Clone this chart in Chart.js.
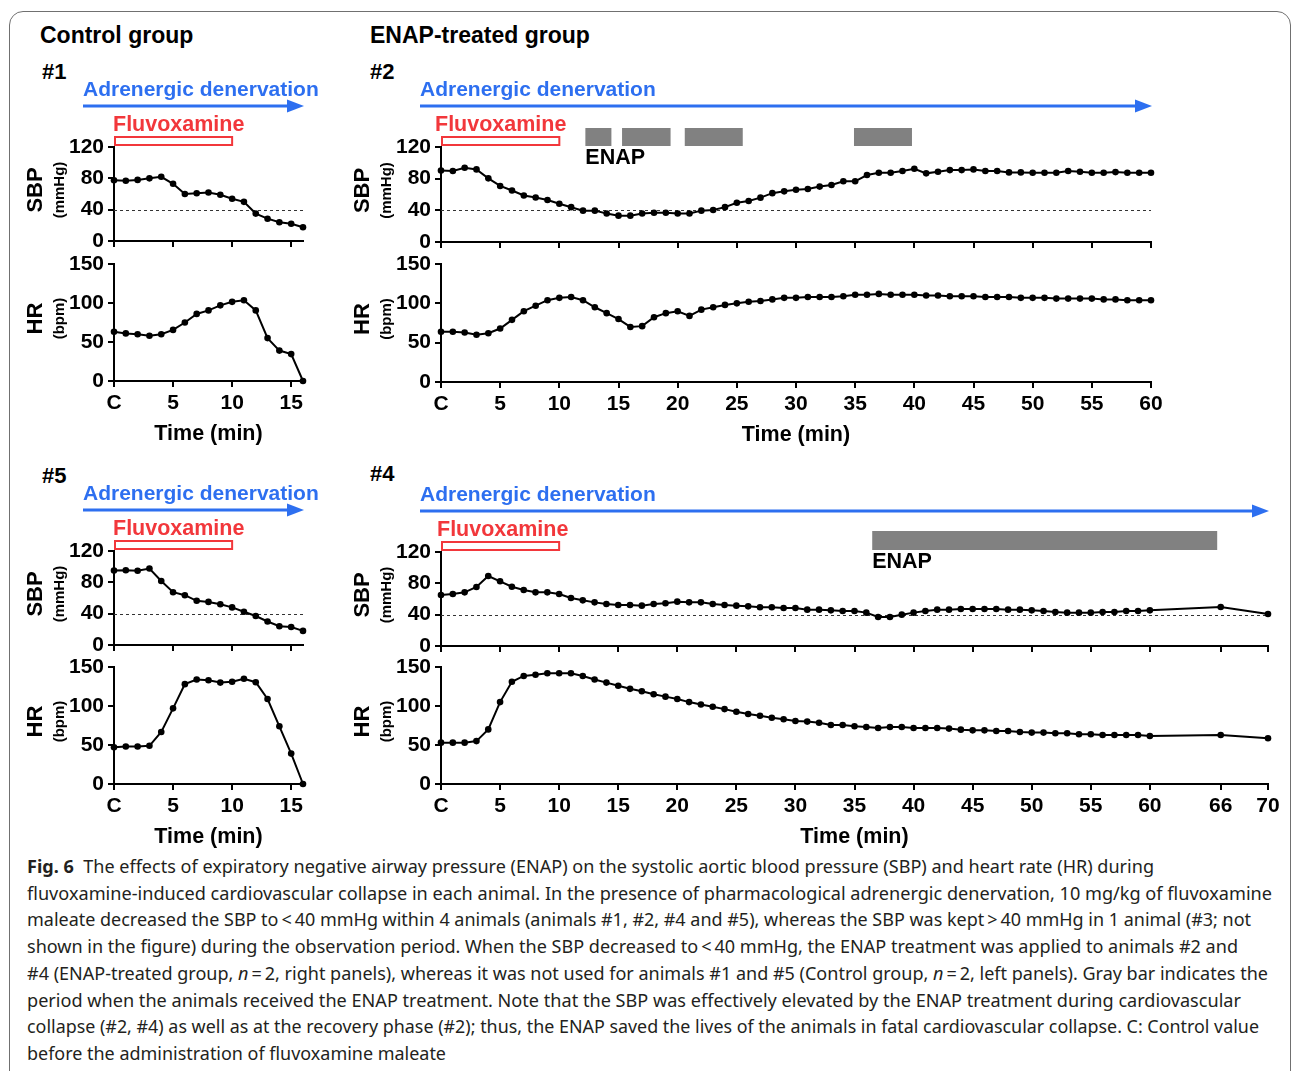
<!DOCTYPE html>
<html>
<head>
<meta charset="utf-8">
<script src="https://cdn.jsdelivr.net/npm/chart.js@4.4.1/dist/chart.umd.min.js"></script>
<style>
body { margin:0; background:#fff; width:1293px; height:1071px; overflow:hidden; position:relative; font-family:"Liberation Sans", Arial, sans-serif; }
.frame { position:absolute; left:9px; top:11px; width:1280px; height:1100px; border:1.5px solid #707070; border-radius:14px; }
.hd { position:absolute; font-weight:bold; font-size:23px; line-height:23px; color:#000; }
.num { font-size:22px; line-height:22px; }
canvas { position:absolute; }
#caption { position:absolute; left:27px; top:853px; font-family:"Noto Sans", sans-serif; font-size:18.5px; line-height:26.7px; color:#231f20; }
#caption div { white-space:nowrap; transform-origin:0 0; width:max-content; }
</style>
</head>
<body>
<div class="frame"></div>
<div class="hd" style="left:40px;top:24px">Control group</div>
<div class="hd" style="left:370px;top:24px">ENAP-treated group</div>
<div class="hd num" style="left:42px;top:61px">#1</div>
<div class="hd num" style="left:370px;top:61px">#2</div>
<div class="hd num" style="left:42px;top:465px">#5</div>
<div class="hd num" style="left:370px;top:463px">#4</div>

<div id="caption">
<div><b>Fig. 6</b>&nbsp; The effects of expiratory negative airway pressure (ENAP) on the systolic aortic blood pressure (SBP) and heart rate (HR) during</div>
<div>fluvoxamine-induced cardiovascular collapse in each animal. In the presence of pharmacological adrenergic denervation, 10 mg/kg of fluvoxamine</div>
<div>maleate decreased the SBP to&thinsp;&lt;&thinsp;40 mmHg within 4 animals (animals #1, #2, #4 and #5), whereas the SBP was kept&thinsp;&gt;&thinsp;40 mmHg in 1 animal (#3; not</div>
<div>shown in the figure) during the observation period. When the SBP decreased to&thinsp;&lt;&thinsp;40 mmHg, the ENAP treatment was applied to animals #2 and</div>
<div>#4 (ENAP-treated group, <i>n</i>&thinsp;=&thinsp;2, right panels), whereas it was not used for animals #1 and #5 (Control group, <i>n</i>&thinsp;=&thinsp;2, left panels). Gray bar indicates the</div>
<div>period when the animals received the ENAP treatment. Note that the SBP was effectively elevated by the ENAP treatment during cardiovascular</div>
<div>collapse (#2, #4) as well as at the recovery phase (#2); thus, the ENAP saved the lives of the animals in fatal cardiovascular collapse. C: Control value</div>
<div>before the administration of fluvoxamine maleate</div>
</div>

<script>
// datos (minutos, mmHg, bpm)
const time16 = [0,1,2,3,4,5,6,7,8,9,10,11,12,13,14,15,16];
const sbp1 = [77.6,77,78,80,82,73,60,61,62,59,54,50,35,28.5,24,22,17.5];
const hr1 = [63,61,60,58,60,65.5,75,86,90.5,97,101.5,103.5,90.5,55,39,34.5,0];

const sbp5 = [95,95.5,94.7,97.7,81.7,67.4,63.6,56.4,55,52,48,42.5,37,30,24,23,18];
const hr5 = [47,48,48,49,66.7,97,128,134,133,130,131,135,130.5,109,74,39,0];

const time60 = [0,1,2,3,4,5,6,7,8,9,10,11,12,13,14,15,16,17,18,19,20,21,22,23,24,25,26,27,28,29,30,
  31,32,33,34,35,36,37,38,39,40,41,42,43,44,45,46,47,48,49,50,51,52,53,54,55,56,57,58,59,60];
const sbp2 = [90.4,89.6,93.7,91.7,80.4,70.8,65,58.7,56.2,53,48.3,44,39.6,39.6,36,33.3,33.3,36,37,37,36,
  36,39.6,40.4,44,49.6,51.7,56,61.7,64,66,67,70,72,76.7,76.7,84.6,87.5,87.5,89.6,92.5,
  86.7,88.7,90.8,90.8,91.7,89.6,89.6,87.9,87.9,87.5,87.5,87.5,89.6,88.7,87.5,87.5,88.3,87.5,87.5,87.5];
const hr2 = [63.8,63.8,63,60,62,68,79,90,97,104,107,108,104,95,87.5,80,70,71,82.4,87.5,90,
  84,92,95,98,100,102,103,105,107,107,108,108,108,109,111,111,112,111,111,111,
  110,110,109,109,109,108,108,108,107,107,107,106,106,106,106,105,105,104,104,104];

const time70 = [0,1,2,3,4,5,6,7,8,9,10,11,12,13,14,15,16,17,18,19,20,21,22,23,24,25,26,27,28,29,30,
  31,32,33,34,35,36,37,38,39,40,41,42,43,44,45,46,47,48,49,50,51,52,53,54,55,56,57,58,59,60,66,70];
const sbp4 = [65.1,66.4,68.5,75.3,89.4,82.6,75.7,71.5,68.5,68.5,66.4,61.3,58.3,55.7,53.6,52.3,52.3,51.5,53.6,54.5,56.6,
  55.7,55.7,53.6,52.3,51.5,50.6,49.4,49.4,48.5,48.5,46.4,46.4,45.5,44.7,44.7,42.6,37,37,40,42.6,
  44.7,46.4,46.4,47.2,47.2,47.2,47.2,46.4,46.4,45.5,44.7,43.4,42.6,42.6,42.6,43.4,43.4,44.7,44.7,45.5,49.8,40.9];
const hr4 = [53,53,53,55,70,105,131,138.5,140,142,142,142,138.5,134,130,126,122,119,115,112,109,
  105,102,99,96,92.6,89.7,87.5,85,83,80.7,80,78.6,75.6,75.6,74,73,71.8,73,73,71.8,
  71.8,71.8,71,69.7,68.8,68.8,68,68,66.7,65.9,65.9,65,65,63.7,63.7,62.9,62.9,62.9,62.9,61.6,62.9,58.6];

const xTicks16 = [0,5,10,15];
const xTicks60 = [0,5,10,15,20,25,30,35,40,45,50,55,60];
const xTicks70 = [0,5,10,15,20,25,30,35,40,45,50,55,60,66,70];
const sbpTicks = [0,40,80,120];
const hrTicks = [0,50,100,150];

const fluvoxamine = [0,10];
const enap2 = [[12.2,14.4],[15.3,19.4],[20.6,25.5],[34.9,39.8]];
const enap4 = [[36.5,65.7]];
const sbpLimit = 40;

const BLUE = '#2d6ff0';
const RED = '#f2373b';
const FONT = "'Liberation Sans', Arial, sans-serif";

Chart.defaults.font.family = FONT;

function decorPlugin(opt) {
  return {
    id: 'decor',
    beforeDatasetsDraw(chart) {
      if (!opt.sbp) return;
      const {ctx, chartArea: a, scales: {y}} = chart;
      const py = Math.round(y.getPixelForValue(sbpLimit)) + 0.5;
      ctx.save();
      ctx.setLineDash([3, 3]);
      ctx.strokeStyle = '#333';
      ctx.lineWidth = 1;
      ctx.beginPath(); ctx.moveTo(a.left, py); ctx.lineTo(a.right, py); ctx.stroke();
      ctx.restore();
    },
    afterDraw(chart) {
      const {ctx, chartArea: a, scales: {x}} = chart;
      ctx.save();
      // titulos del eje y
      const mid = (a.top + a.bottom) / 2 - 4;
      ctx.fillStyle = '#000';
      ctx.textAlign = 'center';
      ctx.textBaseline = 'middle';
      ctx.save(); ctx.translate(a.left - 78, mid); ctx.rotate(-Math.PI / 2);
      ctx.font = 'bold 22px ' + FONT; ctx.fillText(opt.sbp ? 'SBP' : 'HR', 0, 0); ctx.restore();
      ctx.save(); ctx.translate(a.left - 54, mid); ctx.rotate(-Math.PI / 2);
      ctx.font = 'bold 15px ' + FONT; ctx.fillText(opt.sbp ? '(mmHg)' : '(bpm)', 0, 0); ctx.restore();

      if (opt.sbp) {
        ctx.textAlign = 'left';
        ctx.font = 'bold 21px ' + FONT;
        // flecha de denervacion
        const x0 = a.left + opt.arrowStart;
        const x1 = x.getPixelForValue(x.max) + 1;
        const ya = a.top - 41;
        ctx.fillStyle = BLUE;
        ctx.fillText('Adrenergic denervation', x0, a.top - 57);
        ctx.strokeStyle = BLUE; ctx.lineWidth = 3;
        ctx.beginPath(); ctx.moveTo(x0, ya); ctx.lineTo(x1 - 12, ya); ctx.stroke();
        ctx.beginPath(); ctx.moveTo(x1 - 17, ya - 6.5); ctx.lineTo(x1, ya); ctx.lineTo(x1 - 17, ya + 6.5); ctx.closePath(); ctx.fill();
        // fluvoxamina
        const f0 = x.getPixelForValue(fluvoxamine[0]);
        const f1 = x.getPixelForValue(fluvoxamine[1]);
        ctx.fillStyle = RED;
        ctx.font = 'bold 21.5px ' + FONT;
        ctx.fillText('Fluvoxamine', f0 + opt.fluvoDx, a.top - 22);
        ctx.strokeStyle = RED; ctx.lineWidth = 2;
        ctx.strokeRect(f0 + 1, a.top - 10, f1 - f0 - 1, 8);
        // ENAP
        if (opt.enap) {
          ctx.fillStyle = '#818181';
          opt.enap.forEach(p => {
            const e0 = x.getPixelForValue(p[0]);
            const e1 = x.getPixelForValue(p[1]);
            ctx.fillRect(e0, a.top + opt.enapTop, e1 - e0, opt.enapH);
          });
          ctx.fillStyle = '#000';
          ctx.font = 'bold 21.5px ' + FONT;
          ctx.fillText('ENAP', x.getPixelForValue(opt.enap[0][0]), a.top + opt.enapLabel);
        }
      }
      ctx.restore();
    }
  };
}

function makeChart(box, times, values, opt) {
  const padTop = opt.sbp ? 80 : 20;
  const xH = opt.sbp ? 8 : 70;
  const padBottom = opt.sbp ? 10 : 5;
  const w = box.R - box.L + 110 + 25;
  const h = box.B - box.T + padTop + xH + padBottom;
  const cv = document.createElement('canvas');
  cv.width = w; cv.height = h;
  cv.style.left = (box.L - 110) + 'px';
  cv.style.top = (box.T - padTop) + 'px';
  cv.style.width = w + 'px';
  cv.style.height = h + 'px';
  document.body.appendChild(cv);

  const tickFont = {family: FONT, size: 21, weight: 'bold'};
  const yTicks = opt.sbp ? sbpTicks : hrTicks;

  return new Chart(cv, {
    type: 'line',
    data: {
      datasets: [{
        data: times.map((t, i) => ({x: t, y: values[i]})),
        borderColor: '#000',
        backgroundColor: '#000',
        borderWidth: 2,
        pointRadius: 3.3,
        pointBorderWidth: 0,
        tension: 0,
        clip: false
      }]
    },
    options: {
      responsive: false,
      animation: false,
      devicePixelRatio: 1,
      layout: {padding: {left: 60, right: 25, top: padTop, bottom: padBottom}},
      plugins: {legend: {display: false}, tooltip: {enabled: false}},
      scales: {
        x: {
          type: 'linear',
          min: 0,
          max: opt.xMax,
          afterBuildTicks: s => { s.ticks = opt.xTicks.map(v => ({value: v})); },
          afterFit: s => { s.height = xH; },
          ticks: {
            display: !opt.sbp,
            autoSkip: false,
            maxRotation: 0,
            minRotation: 0,
            padding: 4,
            color: '#000',
            font: tickFont,
            callback: v => v === 0 ? 'C' : String(v)
          },
          grid: {drawOnChartArea: false, color: '#000', lineWidth: 2, tickLength: 6},
          border: {color: '#000', width: 2},
          title: {
            display: !opt.sbp,
            text: 'Time (min)',
            color: '#000',
            font: {family: FONT, size: 21.5, weight: 'bold'},
            padding: {top: 0, bottom: 4}
          }
        },
        y: {
          min: 0,
          max: yTicks[yTicks.length - 1],
          afterBuildTicks: s => { s.ticks = yTicks.map(v => ({value: v})); },
          afterFit: s => { s.width = 50; },
          ticks: {padding: 4, color: '#000', font: tickFont},
          grid: {drawOnChartArea: false, color: '#000', lineWidth: 2, tickLength: 6},
          border: {color: '#000', width: 2}
        }
      }
    },
    plugins: [decorPlugin(opt)]
  });
}

// #1
makeChart({L: 114, R: 303, T: 147, B: 241}, time16, sbp1, {sbp: true, xMax: 16, xTicks: xTicks16, arrowStart: -31, fluvoDx: -1});
makeChart({L: 114, R: 303, T: 264, B: 381}, time16, hr1, {sbp: false, xMax: 16, xTicks: xTicks16});
// #2
makeChart({L: 441, R: 1151, T: 147, B: 242}, time60, sbp2, {sbp: true, xMax: 60, xTicks: xTicks60, arrowStart: -21, fluvoDx: -6,
  enap: enap2, enapTop: -19, enapH: 18, enapLabel: 11});
makeChart({L: 441, R: 1151, T: 264, B: 382}, time60, hr2, {sbp: false, xMax: 60, xTicks: xTicks60});
// #5
makeChart({L: 114, R: 303, T: 551, B: 645}, time16, sbp5, {sbp: true, xMax: 16, xTicks: xTicks16, arrowStart: -31, fluvoDx: -1});
makeChart({L: 114, R: 303, T: 667, B: 784}, time16, hr5, {sbp: false, xMax: 16, xTicks: xTicks16});
// #4
makeChart({L: 441, R: 1268, T: 552, B: 646}, time70, sbp4, {sbp: true, xMax: 70, xTicks: xTicks70, arrowStart: -21, fluvoDx: -4,
  enap: enap4, enapTop: -21, enapH: 19, enapLabel: 10});
makeChart({L: 441, R: 1268, T: 667, B: 784}, time70, hr4, {sbp: false, xMax: 70, xTicks: xTicks70});

// ajustar el ancho de cada linea del pie de figura
const captionEnds = [1154, 1272, 1251, 1238, 1268, 1241, 1259, 446];
function fitCaption() {
  document.querySelectorAll('#caption div').forEach((d, i) => {
    d.style.transform = 'none';
    const wNow = d.getBoundingClientRect().width;
    d.style.transform = 'scaleX(' + ((captionEnds[i] - 27) / wNow) + ')';
  });
}
fitCaption();
document.fonts.ready.then(fitCaption);
</script>
</body>
</html>
